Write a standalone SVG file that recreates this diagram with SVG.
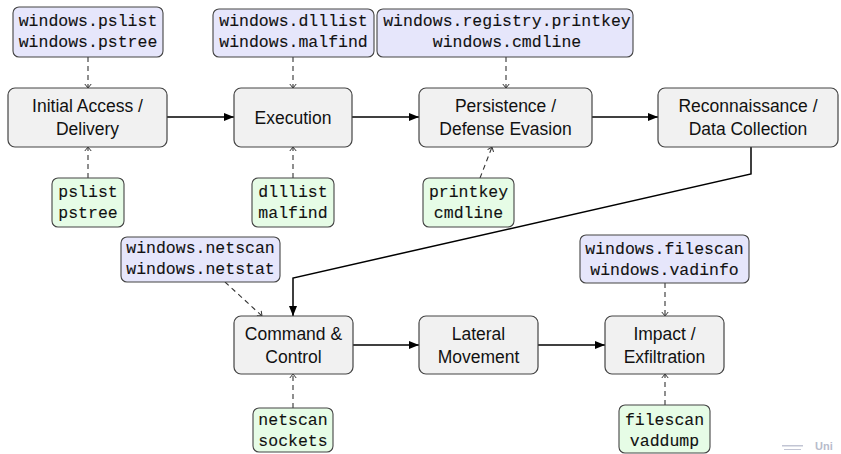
<svg xmlns="http://www.w3.org/2000/svg" width="841" height="454" viewBox="0 0 841 454">
<defs>
<style>
.main rect{fill:#f1f1f1;stroke:#444;stroke-width:1.2}
.blue rect{fill:#e6e6fb;stroke:#444;stroke-width:1.1}
.green rect{fill:#e6fce6;stroke:#444;stroke-width:1.1}
.main text{font-family:"Liberation Sans",Arial,sans-serif;font-size:17.5px;fill:#111;text-anchor:middle}
.blue text,.green text{font-family:"Liberation Mono","Courier New",monospace;font-size:16.5px;fill:#111;stroke:#111;stroke-width:0.1;text-anchor:middle}
.solid{fill:none;stroke:#000;stroke-width:1.5;marker-end:url(#ah)}
.dash{fill:none;stroke:#333;stroke-width:1.1;stroke-dasharray:5,4;marker-end:url(#oh)}
</style>
<marker id="ah" markerUnits="userSpaceOnUse" markerWidth="11" markerHeight="8" refX="10" refY="4" orient="auto">
<path d="M0,0 L10,4 L0,8 z" fill="#000"/>
</marker>
<marker id="oh" markerUnits="userSpaceOnUse" markerWidth="6" markerHeight="8" refX="4.5" refY="4" orient="auto">
<path d="M0.5,0.8 L4.5,4 L0.5,7.2" fill="none" stroke="#333" stroke-width="1"/>
</marker>
</defs>
<rect width="841" height="454" fill="#fff"/>

<g id="connectors">
<line class="solid" x1="167" y1="117" x2="234" y2="117"/>
<line class="solid" x1="352" y1="117" x2="419" y2="117"/>
<line class="solid" x1="592" y1="117" x2="658" y2="117"/>
<path class="solid" d="M751,147 L751,174 L293,278 L293,316"/>
<line class="solid" x1="353" y1="345" x2="419" y2="345"/>
<line class="solid" x1="538" y1="345" x2="605" y2="345"/>
<line class="dash" x1="88" y1="57" x2="88" y2="88"/>
<line class="dash" x1="293" y1="57" x2="293" y2="88"/>
<line class="dash" x1="506" y1="57" x2="506" y2="88"/>
<line class="dash" x1="88" y1="178" x2="88" y2="147"/>
<line class="dash" x1="293" y1="178" x2="293" y2="147"/>
<line class="dash" x1="480" y1="178" x2="492" y2="147"/>
<line class="dash" x1="225" y1="282" x2="262" y2="316"/>
<line class="dash" x1="665" y1="283" x2="665" y2="316"/>
<line class="dash" x1="293" y1="408" x2="293" y2="374"/>
<line class="dash" x1="665" y1="405" x2="665" y2="374"/>
</g>

<g id="n-initial" class="main"><rect x="8" y="88" width="159" height="59" rx="7"/><text x="87.5" y="112">Initial Access /</text><text x="87.5" y="135">Delivery</text></g>
<g id="n-execution" class="main"><rect x="234" y="88" width="118" height="59" rx="7"/><text x="293" y="124">Execution</text></g>
<g id="n-persistence" class="main"><rect x="419" y="88" width="173" height="59" rx="7"/><text x="505.5" y="112">Persistence /</text><text x="505.5" y="135">Defense Evasion</text></g>
<g id="n-recon" class="main"><rect x="658" y="88" width="180" height="59" rx="7"/><text x="748" y="112">Reconnaissance /</text><text x="748" y="135">Data Collection</text></g>
<g id="n-c2" class="main"><rect x="234" y="316" width="119" height="58" rx="7"/><text x="293.5" y="340">Command &amp;</text><text x="293.5" y="363">Control</text></g>
<g id="n-lateral" class="main"><rect x="419" y="316" width="119" height="58" rx="7"/><text x="478.5" y="340">Lateral</text><text x="478.5" y="363">Movement</text></g>
<g id="n-impact" class="main"><rect x="605" y="316" width="119" height="58" rx="7"/><text x="664.5" y="340">Impact /</text><text x="664.5" y="363">Exfiltration</text></g>

<g id="v3-pslist" class="blue"><rect x="13" y="7" width="150" height="50" rx="6"/><text x="88" y="26">windows.pslist</text><text x="88" y="47">windows.pstree</text></g>
<g id="v3-dlllist" class="blue"><rect x="213" y="9" width="161" height="48" rx="6"/><text x="293.5" y="26">windows.dlllist</text><text x="293.5" y="47">windows.malfind</text></g>
<g id="v3-printkey" class="blue"><rect x="377" y="9" width="256" height="48" rx="6"/><text x="507" y="26">windows.registry.printkey</text><text x="507" y="47">windows.cmdline</text></g>
<g id="v3-netscan" class="blue"><rect x="121" y="237" width="159" height="45" rx="6"/><text x="200.5" y="253">windows.netscan</text><text x="200.5" y="274">windows.netstat</text></g>
<g id="v3-filescan" class="blue"><rect x="580" y="235" width="169" height="48" rx="6"/><text x="664.5" y="254">windows.filescan</text><text x="664.5" y="275">windows.vadinfo</text></g>

<g id="v2-pslist" class="green"><rect x="52" y="178" width="72" height="49" rx="6"/><text x="88" y="197">pslist</text><text x="88" y="218">pstree</text></g>
<g id="v2-dlllist" class="green"><rect x="252" y="178" width="82" height="49" rx="6"/><text x="293" y="197">dlllist</text><text x="293" y="218">malfind</text></g>
<g id="v2-printkey" class="green"><rect x="423" y="178" width="91" height="49" rx="6"/><text x="468.5" y="197">printkey</text><text x="468.5" y="218">cmdline</text></g>
<g id="v2-netscan" class="green"><rect x="253" y="408" width="80" height="44" rx="6"/><text x="293" y="425">netscan</text><text x="293" y="446">sockets</text></g>
<g id="v2-filescan" class="green"><rect x="619" y="405" width="91" height="48" rx="6"/><text x="664.5" y="425">filescan</text><text x="664.5" y="446">vaddump</text></g>

<g id="logo" opacity="0.6">
<rect x="782" y="445" width="21" height="1.5" fill="#9aa0b8"/>
<rect x="784" y="449" width="17" height="1" fill="#9aa0b8"/>
<text x="815" y="450" font-family="Liberation Sans,Arial,sans-serif" font-size="11" font-weight="bold" fill="#8a90aa">Uni</text>
</g>
</svg>
